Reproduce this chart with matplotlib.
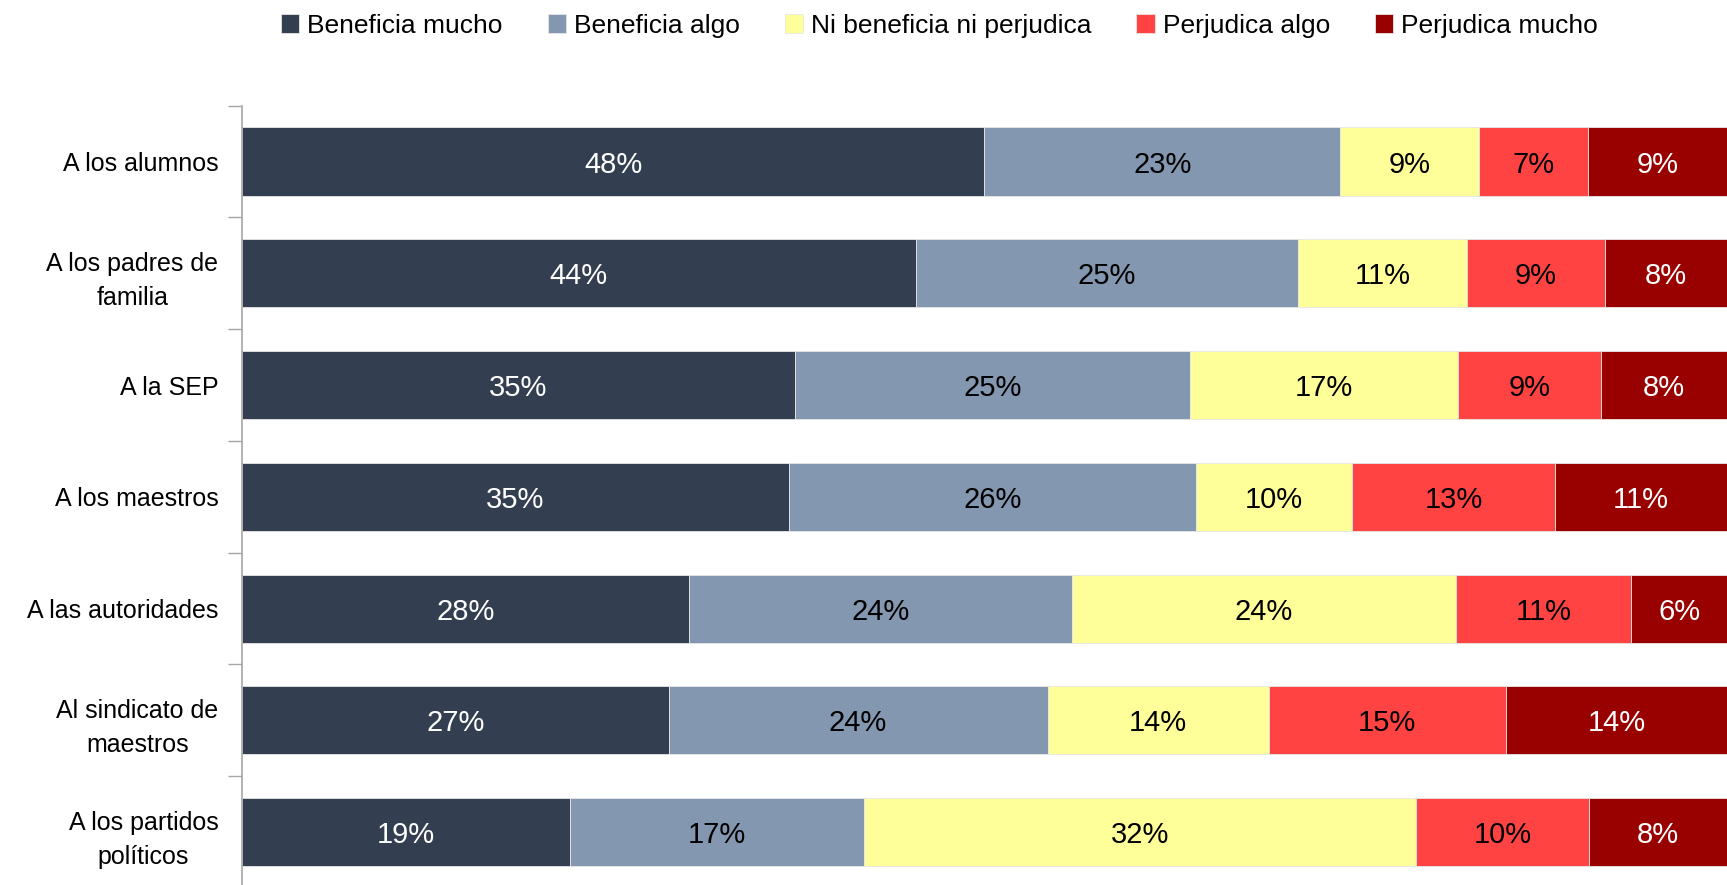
import numpy as np
import matplotlib.pyplot as plt
from matplotlib import font_manager

# Data
categories = ["A los alumnos", "A los padres de\nfamilia", "A la SEP", "A los maestros",
              "A las autoridades", "Al sindicato de\nmaestros", "A los partidos\npolíticos"]
series_names = ["Beneficia mucho", "Beneficia algo", "Ni beneficia ni perjudica",
                "Perjudica algo", "Perjudica mucho"]
beneficia_mucho = [48, 44, 35, 35, 28, 27, 19]
beneficia_algo = [23, 25, 25, 26, 24, 24, 17]
ni_ni = [9, 11, 17, 10, 24, 14, 32]
perjudica_algo = [7, 9, 9, 13, 11, 15, 10]
perjudica_mucho = [9, 8, 8, 11, 6, 14, 8]

colors = ["#333F50", "#8497B0", "#FFFF99", "#FF4343", "#990000"]
text_colors = ["white", "black", "black", "black", "white"]

available = {f.name for f in font_manager.fontManager.ttflist}
narrow = "Liberation Sans Narrow" if "Liberation Sans Narrow" in available else "Liberation Sans"
plt.rcParams['font.family'] = [narrow, 'DejaVu Sans']

series = np.array([beneficia_mucho, beneficia_algo, ni_ni, perjudica_algo, perjudica_mucho], dtype=float)
shares = series / series.sum(axis=0)  # bars are stretched to 100%

fig = plt.figure(figsize=(17.27, 8.85), dpi=100)
ax = fig.add_axes([0.1401, -0.0034, 0.8599, 0.884])

y = np.arange(len(categories))
left = np.zeros(len(categories))
for i, name in enumerate(series_names):
    ax.barh(y, shares[i], left=left, height=0.61, color=colors[i], label=name,
            edgecolor="#E6E6E6", linewidth=0.6)
    for j in range(len(categories)):
        ax.text(left[j] + shares[i][j] / 2, y[j], f"{int(series[i][j])}%",
                ha="center", va="center_baseline", fontsize=21, color=text_colors[i])
    left += shares[i]

ax.set_xlim(0, 1)
ax.set_ylim(len(categories) - 0.5, -0.5)
ax.set_yticks(y)
ax.set_yticklabels(categories, fontsize=18, linespacing=1.55)
for lbl in ax.get_yticklabels():
    lbl.set_multialignment("center")
ax.set_yticks(np.arange(len(categories) + 1) - 0.5, minor=True)
ax.tick_params(axis="y", which="major", length=0, pad=17)
ax.tick_params(axis="y", which="minor", length=10, color="#A6A6A6", width=1)
ax.set_xticks([])
for s in ["top", "right", "bottom"]:
    ax.spines[s].set_visible(False)
ax.spines["left"].set_color("#A6A6A6")
ax.spines["left"].set_linewidth(1.2)

fig.legend(loc="center", bbox_to_anchor=(0.544, 0.971), ncol=5, frameon=False,
           fontsize=19, handlelength=0.7, handleheight=0.7, handletextpad=0.3,
           columnspacing=1.7)

fig.savefig("out.png", dpi=100)
